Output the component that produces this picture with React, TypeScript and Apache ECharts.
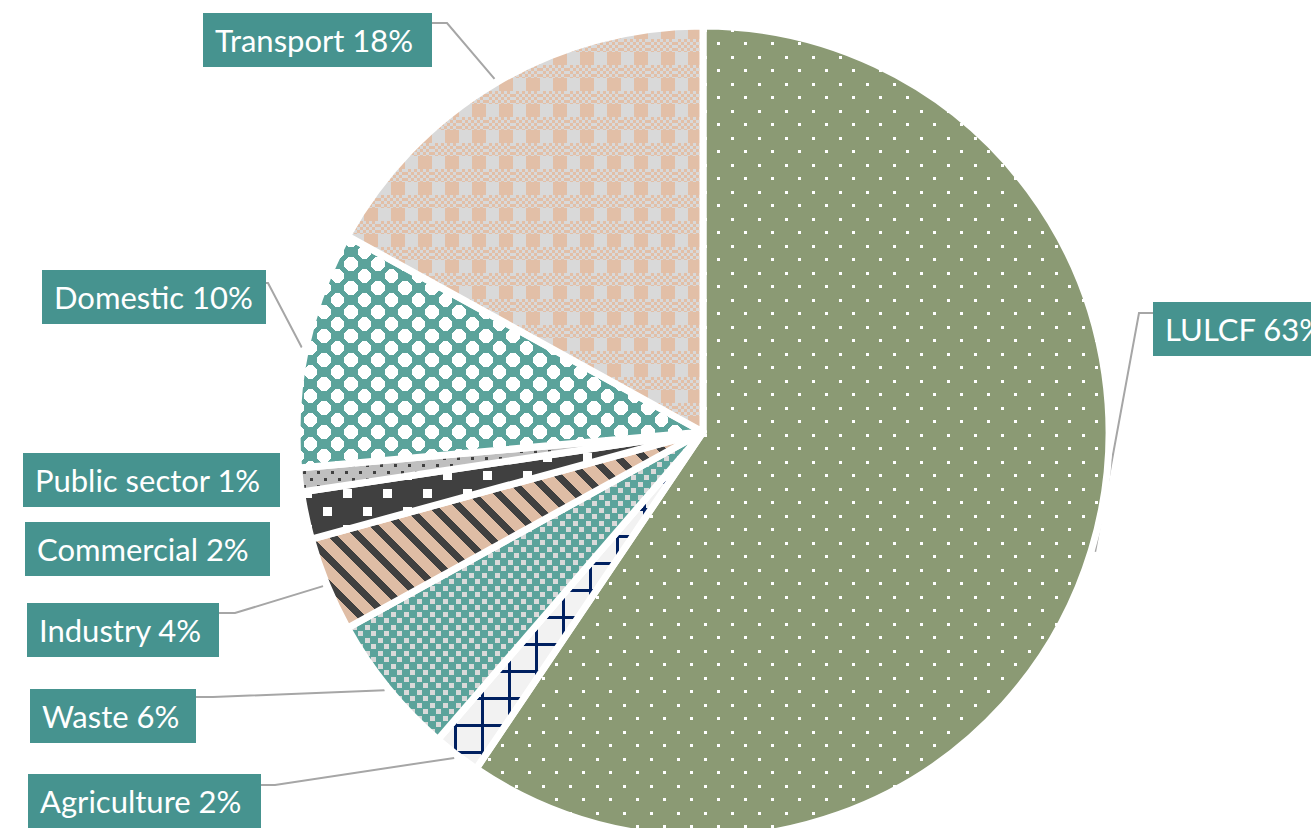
import React, { useEffect, useRef } from 'react';
import * as echarts from 'echarts';

// ---- data ----
const categories = ['LULCF', 'Agriculture', 'Waste', 'Industry', 'Commercial', 'Public sector', 'Domestic', 'Transport'];
const shares = [63, 2, 6, 4, 2, 1, 10, 18];

// ---- label layout (box top-left, width, guide line) ----
const boxLeft = [1153, 28, 30, 27, 25, 23, 42, 203];
const boxTop = [302, 774, 689, 603, 522, 453, 270, 13];
const boxWidth = [200, 233, 166, 192, 245, 257, 224, 229];
const lineShow = [true, true, true, true, false, false, true, true];
const lineDy = [11, 11, 8, 10, 0, 0, 13, 10];
const lineElbow = [14, 14, 17, 16, 0, 0, 2, 15];

const CX = 703;
const CY = 432;
const BOX_H = 54;

function tile(w: number, h: number, draw: (ctx: CanvasRenderingContext2D) => void) {
  const c = document.createElement('canvas');
  c.width = w;
  c.height = h;
  const ctx = c.getContext('2d')!;
  ctx.imageSmoothingEnabled = false;
  draw(ctx);
  return { image: c, repeat: 'repeat', imageWidth: w, imageHeight: h } as any;
}

function makePatterns() {
  const lulcf = tile(27, 27, (g) => {
    g.fillStyle = '#8B9A74';
    g.fillRect(0, 0, 27, 27);
    g.fillStyle = '#FFFFFF';
    g.fillRect(2, 2, 3, 3);
    g.fillRect(15, 15, 3, 3);
  });
  const agriculture = tile(27, 27, (g) => {
    g.fillStyle = '#F2F2F2';
    g.fillRect(0, 0, 27, 27);
    g.fillStyle = '#002060';
    g.fillRect(22, 0, 3, 27);
    g.fillRect(0, 22, 27, 3);
  });
  const waste = tile(13, 13, (g) => {
    g.fillStyle = '#5BA39B';
    g.fillRect(0, 0, 13, 13);
    g.fillStyle = '#D9D9D9';
    g.fillRect(1, 1, 5, 5);
    g.fillRect(7, 7, 5, 5);
  });
  const industry = tile(26, 26, (g) => {
    g.fillStyle = '#DFBDA5';
    g.fillRect(0, 0, 26, 26);
    g.fillStyle = '#404040';
    for (let y = 0; y < 26; y++) {
      for (let x = 0; x < 26; x++) {
        if ((((x - y) % 26) + 26) % 26 < 10) g.fillRect(x, y, 1, 1);
      }
    }
  });
  const commercial = tile(40, 36, (g) => {
    g.fillStyle = '#404040';
    g.fillRect(0, 0, 40, 36);
    g.fillStyle = '#FFFFFF';
    g.fillRect(3, 3, 9, 9);
    g.fillRect(23, 21, 9, 9);
  });
  const publicSector = tile(14, 14, (g) => {
    g.fillStyle = '#BFBFBF';
    g.fillRect(0, 0, 14, 14);
    g.fillStyle = '#404040';
    g.fillRect(2, 2, 3, 3);
    g.fillRect(9, 9, 3, 3);
  });
  const domestic = tile(27, 24, (g) => {
    g.fillStyle = '#5BA39B';
    g.fillRect(0, 0, 27, 24);
    g.fillStyle = '#FFFFFF';
    const centers = [[0, 0], [27, 0], [0, 24], [27, 24], [13.5, 12]];
    for (let y = 0; y < 24; y++) {
      for (let x = 0; x < 27; x++) {
        for (const [cx, cy] of centers) {
          const dx = Math.abs(x + 0.5 - cx);
          const dy = Math.abs(y + 0.5 - cy);
          if (dx + dy <= 9 && dx <= 6.5 && dy <= 6.5) {
            g.fillRect(x, y, 1, 1);
            break;
          }
        }
      }
    }
  });
  const transport = tile(27, 26, (g) => {
    g.fillStyle = '#E2BFA7';
    g.fillRect(0, 0, 27, 26);
    g.fillStyle = '#D9D9D9';
    g.fillRect(0, 0, 13, 13);
    for (let by = 0; by < 5; by++) {
      for (let bx = 0; bx < 9; bx++) {
        if ((bx + by) % 2 === 0) g.fillRect(bx * 3, 13 + by * 3, 3, 3);
      }
    }
  });
  return [lulcf, agriculture, waste, industry, commercial, publicSector, domestic, transport];
}

export default function App() {
  const ref = useRef<HTMLDivElement>(null);

  useEffect(() => {
    if (!ref.current) return;
    const chart = echarts.init(ref.current, null, { renderer: 'svg' });
    const patterns = makePatterns();

    const data = categories.map((name, i) => ({
      name,
      value: shares[i],
      itemStyle: { color: patterns[i] },
      label: { width: boxWidth[i] - 24 },
      labelLine: { show: lineShow[i] },
    }));

    chart.setOption({
      animation: false,
      backgroundColor: '#FFFFFF',
      series: [
        {
          type: 'pie',
          center: [CX, CY],
          radius: 406,
          startAngle: 90,
          clockwise: true,
          avoidLabelOverlap: false,
          minShowLabelAngle: 0,
          silent: true,
          itemStyle: { borderColor: '#FFFFFF', borderWidth: 7 },
          emphasis: { disabled: true },
          label: {
            show: true,
            position: 'outside',
            formatter: (p: any) => `${p.name} ${p.value}%`,
            color: '#FFFFFF',
            fontFamily: 'Lato',
            fontSize: 31,
            backgroundColor: '#46938F',
            padding: [0, 12, 0, 12],
            lineHeight: BOX_H,
            height: BOX_H,
            overflow: 'none',
            align: 'left',
          },
          labelLine: {
            show: true,
            length: 20,
            length2: 15,
            lineStyle: { color: '#A6A6A6', width: 2 },
          },
          labelLayout: (p: any) => {
            const i = p.dataIndex;
            const left = boxLeft[i];
            const top = boxTop[i];
            const res: any = { x: left, y: top, align: 'left', verticalAlign: 'top' };
            if (lineShow[i] && p.labelLinePoints && p.labelLinePoints.length) {
              const a = p.labelLinePoints[0];
              // push the anchor just past the white slice border
              const vx = a[0] - CX;
              const vy = a[1] - CY;
              const d = Math.sqrt(vx * vx + vy * vy) || 1;
              const ax = a[0] + (vx / d) * 4;
              const ay = a[1] + (vy / d) * 4;
              const rightSide = left > CX;
              const edgeX = rightSide ? left : left + boxWidth[i];
              const ly = top + lineDy[i];
              res.labelLinePoints = [
                [ax, ay],
                [edgeX + (rightSide ? -lineElbow[i] : lineElbow[i]), ly],
                [edgeX, ly],
              ];
            }
            return res;
          },
          data,
        },
      ],
    });

    return () => chart.dispose();
  }, []);

  return (
    <div
      ref={ref}
      style={{ position: 'absolute', left: 0, top: 0, width: 1311, height: 828 }}
    />
  );
}
